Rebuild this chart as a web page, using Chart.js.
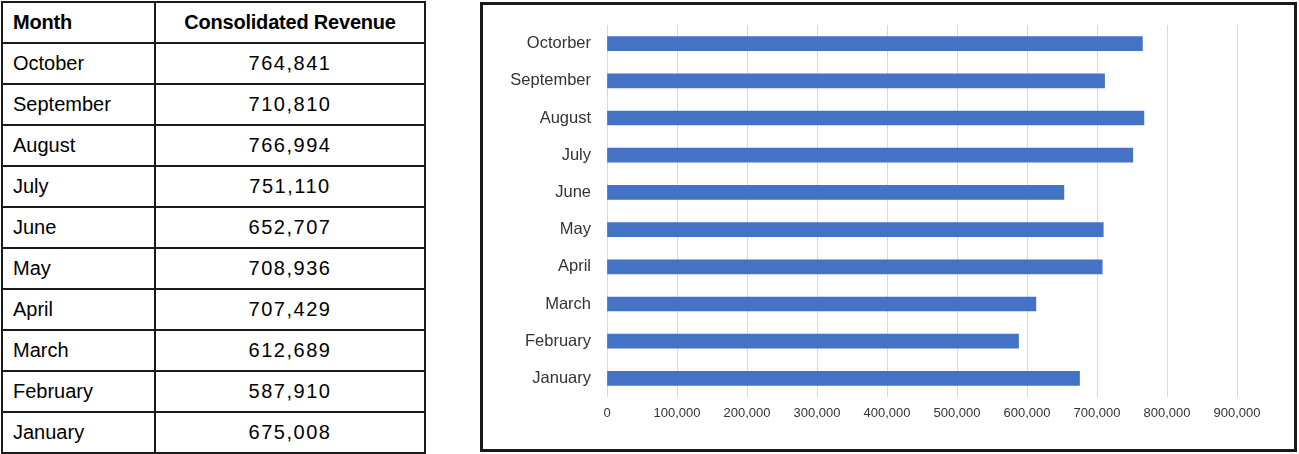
<!DOCTYPE html>
<html>
<head>
<meta charset="utf-8">
<script src="https://cdn.jsdelivr.net/npm/chart.js@4"></script>
<style>
  body { margin: 0; background: #fff; width: 1299px; height: 454px; overflow: hidden; position: relative; }
  #revTable {
    position: absolute; left: 1px; top: 1px;
    border-collapse: collapse;
    font-family: "Liberation Sans", Arial, sans-serif;
    color: #000;
  }
  #revTable th, #revTable td {
    border: 2px solid #1a1a1a;
    height: 39px; padding: 0 10px;
    font-size: 20px;
  }
  #revTable th { font-weight: bold; letter-spacing: -0.2px; }
  #revTable th:first-child, #revTable td:first-child { width: 131px; text-align: left; }
  #revTable th:last-child, #revTable td:last-child { width: 248px; text-align: center; }
  #revTable td:last-child { letter-spacing: 1.5px; }
  #chartBox {
    position: absolute; left: 480px; top: 2px;
    width: 811px; height: 444px;
    border: 3px solid #1a1a1a;
  }
</style>
</head>
<body>
<table id="revTable"><thead><tr><th>Month</th><th>Consolidated Revenue</th></tr></thead><tbody></tbody></table>
<div id="chartBox"><canvas id="revChart"></canvas></div>
<script>
// table rows (as printed in the table)
const months = ['October', 'September', 'August', 'July', 'June', 'May', 'April', 'March', 'February', 'January'];
// chart category labels (as printed on the chart, typo included)
const chartLabels = ['Octorber', 'September', 'August', 'July', 'June', 'May', 'April', 'March', 'February', 'January'];
const revenue = [764841, 710810, 766994, 751110, 652707, 708936, 707429, 612689, 587910, 675008];
const xTicks = [0, 100000, 200000, 300000, 400000, 500000, 600000, 700000, 800000, 900000];

// fill table
let tbody = document.querySelector('#revTable tbody');
months.forEach(function (m, i) {
    let tr = document.createElement('tr');
    tr.innerHTML = `<td>${m}</td><td>${revenue[i].toLocaleString('en-US')}</td>`;
    tbody.appendChild(tr);
});

// bar chart
const ctx = document.getElementById('revChart').getContext('2d');
const revChart = new Chart(ctx, {
    type: 'bar',
    data: {
        labels: chartLabels,
        datasets: [{
            data: revenue,
            backgroundColor: '#4472C4',
            barThickness: 14
        }]
    },
    options: {
        indexAxis: 'y',
        responsive: true,
        maintainAspectRatio: false,
        animation: false,
        layout: { padding: { top: 20, right: 57, bottom: 0, left: 0 } },
        plugins: { legend: { display: false }, tooltip: { enabled: false } },
        scales: {
            x: {
                min: 0,
                max: 900000,
                afterBuildTicks: function (scale) {
                    scale.ticks = xTicks.map(v => ({ value: v }));
                },
                afterFit: function (scale) { scale.height = 52; },
                grid: { color: '#d9d9d9', drawTicks: false },
                border: { display: false },
                ticks: {
                    padding: 9,
                    color: '#333333',
                    font: { family: 'Liberation Sans', size: 13 },
                    callback: v => v.toLocaleString('en-US')
                }
            },
            y: {
                afterFit: function (scale) {
                    scale.width = 124;
                    // don't let the label padding push the plot area down
                    scale.paddingTop = 0;
                    scale.paddingBottom = 0;
                },
                grid: { display: false, drawTicks: false },
                border: { display: false },
                ticks: {
                    padding: 16,
                    color: '#333333',
                    font: { family: 'Liberation Sans', size: 16.5 }
                }
            }
        }
    }
});
</script>
</body>
</html>
